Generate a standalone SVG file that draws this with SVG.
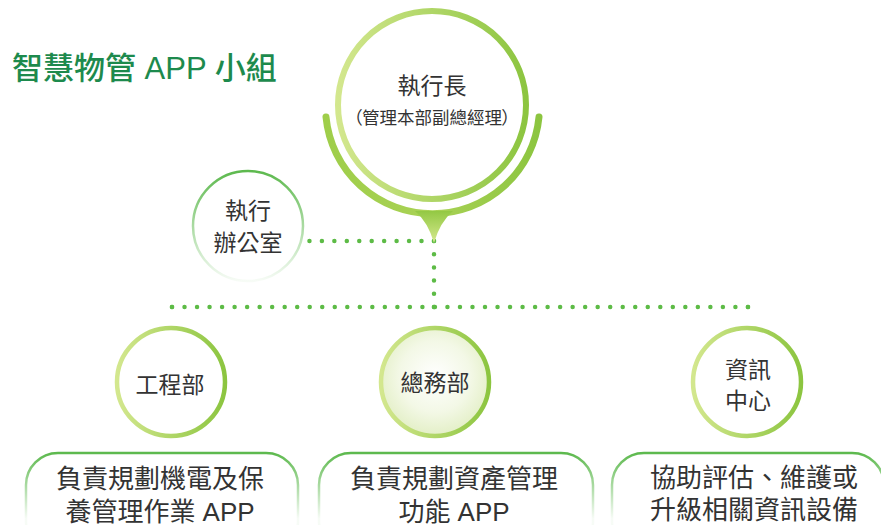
<svg xmlns="http://www.w3.org/2000/svg" width="881" height="525" viewBox="0 0 881 525">
<defs>
<linearGradient id="gH" x1="0" y1="0" x2="1" y2="0">
<stop offset="0" stop-color="#d3e78e"/>
<stop offset="1" stop-color="#8cc540"/>
</linearGradient>
<linearGradient id="gArc" x1="0" y1="0" x2="1" y2="0">
<stop offset="0" stop-color="#9fce4a"/>
<stop offset="0.5" stop-color="#a9d255"/>
<stop offset="1" stop-color="#8cc540"/>
</linearGradient>
<linearGradient id="gPtr" x1="0" y1="0" x2="0" y2="1">
<stop offset="0" stop-color="#93c843"/>
<stop offset="1" stop-color="#d6e98f"/>
</linearGradient>
<linearGradient id="gV" x1="0" y1="0" x2="0" y2="1">
<stop offset="0" stop-color="#5db94e"/>
<stop offset="1" stop-color="#5db94e" stop-opacity="0.05"/>
</linearGradient>
<linearGradient id="gBox" gradientUnits="userSpaceOnUse" x1="0" y1="453" x2="0" y2="530">
<stop offset="0" stop-color="#5db94e"/>
<stop offset="0.85" stop-color="#5db94e" stop-opacity="0.05"/>
</linearGradient>
<radialGradient id="gFill" cx="0.5" cy="0.45" r="0.55">
<stop offset="0" stop-color="#ffffff"/>
<stop offset="0.6" stop-color="#f3f8e6"/>
<stop offset="1" stop-color="#e3efc6"/>
</radialGradient>
</defs>
<style>
text{font-family:"Liberation Sans","Noto Sans CJK TC","Noto Sans CJK SC",sans-serif;fill:#333333;text-anchor:middle}
.title{fill:#1d8a4d;text-anchor:start;font-size:31px;font-weight:500}
.dot{fill:none;stroke:#5dbb46;stroke-width:4.5;stroke-linecap:round}
.sub{stroke:url(#gH);stroke-width:4.5;fill:#ffffff}
.box{fill:none;stroke:url(#gBox);stroke-width:2.5}
.lbl{font-size:23px}
.desc{font-size:26px}
</style>
<rect width="881" height="525" fill="#ffffff"/>
<text class="title" x="12" y="79">智慧物管 APP 小組</text>

<g id="connectors">
<path class="dot" d="M297 241 H434" stroke-dasharray="0 12.45"/>
<path class="dot" d="M434 241 V307" stroke-dasharray="0 13.2"/>
<path class="dot" d="M172 307 H748" stroke-dasharray="0 12.52"/>
<path class="dot" d="M172 307 V320" stroke-dasharray="0 13"/>
<path class="dot" d="M434 307 V320" stroke-dasharray="0 13"/>
<path class="dot" d="M748 307 V320" stroke-dasharray="0 13"/>
</g>

<g id="ceo">
<path d="M326 117 A107 107 0 0 0 539 117" fill="none" stroke="url(#gArc)" stroke-width="7" stroke-linecap="round"/>
<path d="M415 211 Q428 222 434 243 Q440 222 453 211 Z" fill="url(#gPtr)"/>
<circle cx="432" cy="105" r="94" fill="#ffffff" stroke="url(#gH)" stroke-width="6"/>
<text class="lbl" x="432" y="94">執行長</text>
<text font-size="17.5"><tspan x="354" y="124">（</tspan><tspan x="432" y="124">管理本部副總經理</tspan><tspan x="510" y="124">）</tspan></text>
</g>

<g id="office">
<circle cx="248" cy="226" r="55" fill="#ffffff" stroke="url(#gV)" stroke-width="2.5"/>
<text class="lbl" x="248" y="219">執行</text>
<text class="lbl" x="248" y="251">辦公室</text>
</g>

<g id="eng">
<circle class="sub" cx="171" cy="382" r="54"/>
<text class="lbl" x="170" y="393">工程部</text>
</g>

<g id="ga">
<circle class="sub" cx="435" cy="382" r="54" style="fill:url(#gFill)"/>
<text class="lbl" x="435" y="391">總務部</text>
</g>

<g id="it">
<circle class="sub" cx="747" cy="382" r="54"/>
<text class="lbl" x="748" y="378">資訊</text>
<text class="lbl" x="748" y="409">中心</text>
</g>

<g id="eng-desc">
<rect class="box" x="26" y="453" width="272" height="100" rx="32"/>
<text class="desc" x="160" y="488">負責規劃機電及保</text>
<text class="desc" x="160" y="521">養管理作業 APP</text>
</g>

<g id="ga-desc">
<rect class="box" x="319" y="453" width="274" height="100" rx="32"/>
<text class="desc" x="454" y="488">負責規劃資產管理</text>
<text class="desc" x="454" y="521">功能 APP</text>
</g>

<g id="it-desc">
<rect class="box" x="612" y="453" width="272" height="100" rx="32"/>
<text class="desc" x="754" y="487">協助評估、維護或</text>
<text class="desc" x="754" y="519">升級相關資訊設備</text>
</g>
</svg>
